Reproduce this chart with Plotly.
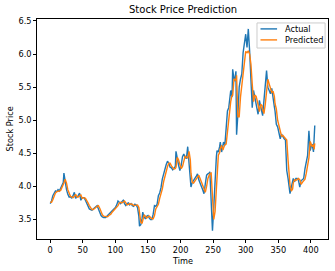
import plotly.graph_objects as go

time_idx = [0,2,4,6,8,10,12,14,16,18,20,21,23,25,27,29,31,33,35,37,39,41,43,45,47,49,52,54,56,58,60,62,64,66,68,70,72,74,76,78,80,82,85,88,90,93,95,98,100,102,104,106,108,110,112,114,116,118,120,122,124,126,128,130,132,134,136,137,139,141,142,144,146,148,150,152,154,156,158,160,162,164,166,168,170,172,174,176,178,180,182,184,186,188,190,192,193,195,197,199,201,203,205,207,209,211,213,215,216,218,220,222,224,226,228,230,232,234,236,238,240,242,244,245,247,249,251,253,255,256,258,260,261,263,265,266,268,270,272,274,276,277,279,280,282,283,285,286,288,290,292,294,296,298,300,302,304,306,308,310,312,314,316,318,319,321,323,325,326,328,330,332,334,336,338,340,342,344,345,347,349,351,353,355,357,359,361,363,365,367,368,370,372,373,375,377,379,381,383,385,387,389,391,393,395,397,399,401,402,404,405,406]

actual = [3.74,3.78,3.86,3.91,3.93,3.92,3.95,3.93,3.98,4.03,4.06,4.20,4.04,3.95,3.88,3.84,3.85,3.82,3.86,3.91,3.82,3.84,3.86,3.90,3.79,3.83,3.83,3.79,3.74,3.70,3.66,3.65,3.64,3.66,3.68,3.70,3.71,3.66,3.60,3.56,3.54,3.53,3.53,3.56,3.58,3.61,3.64,3.66,3.68,3.72,3.78,3.76,3.74,3.77,3.79,3.74,3.71,3.74,3.75,3.72,3.74,3.71,3.70,3.73,3.72,3.68,3.55,3.40,3.42,3.52,3.61,3.54,3.51,3.55,3.56,3.52,3.50,3.50,3.58,3.71,3.70,3.73,3.86,3.90,3.98,4.11,4.20,4.26,4.33,4.38,4.35,4.29,4.28,4.25,4.28,4.30,4.53,4.40,4.32,4.24,4.32,4.45,4.49,4.44,4.42,4.60,4.35,4.10,3.99,4.06,4.10,4.12,4.15,4.19,4.10,4.06,4.00,3.95,3.89,4.04,4.17,4.19,4.20,4.22,3.81,3.33,3.69,4.15,4.45,4.54,4.52,4.60,4.67,4.52,4.60,4.67,4.62,4.95,5.14,5.19,5.35,5.45,5.35,5.77,5.62,5.59,5.74,4.78,5.09,5.50,5.62,5.70,6.02,6.14,6.30,6.10,6.38,6.05,5.45,5.19,5.45,5.35,5.25,5.19,5.09,5.30,5.22,5.15,5.07,5.30,5.55,5.75,5.50,5.45,5.40,5.48,5.30,5.20,5.14,4.94,4.90,4.82,4.72,4.79,4.74,4.72,4.70,4.24,4.12,3.95,3.89,3.99,4.10,4.12,4.07,4.12,4.12,4.09,3.99,4.09,4.10,4.12,4.27,4.39,4.47,4.84,4.54,4.62,4.64,4.52,4.84,4.92]

predicted = [3.76,3.76,3.80,3.86,3.90,3.92,3.92,3.93,3.94,3.98,4.02,4.05,4.11,4.05,3.95,3.88,3.85,3.84,3.83,3.85,3.88,3.84,3.84,3.86,3.87,3.82,3.83,3.82,3.79,3.75,3.71,3.67,3.65,3.65,3.66,3.68,3.70,3.71,3.67,3.61,3.57,3.55,3.54,3.54,3.56,3.58,3.61,3.64,3.66,3.68,3.71,3.75,3.76,3.75,3.76,3.78,3.75,3.72,3.73,3.74,3.73,3.73,3.71,3.71,3.72,3.72,3.68,3.58,3.46,3.44,3.50,3.57,3.55,3.52,3.54,3.55,3.53,3.51,3.51,3.56,3.66,3.70,3.73,3.82,3.88,3.96,4.07,4.16,4.23,4.30,4.35,4.35,4.31,4.28,4.26,4.27,4.29,4.44,4.40,4.33,4.27,4.30,4.40,4.46,4.44,4.43,4.53,4.40,4.20,4.06,4.05,4.08,4.11,4.14,4.17,4.12,4.07,4.01,3.96,3.91,4.00,4.12,4.17,4.19,4.20,3.90,3.50,3.62,4.00,4.30,4.47,4.51,4.57,4.62,4.55,4.58,4.63,4.64,4.85,5.05,5.15,5.28,5.38,5.37,5.62,5.62,5.60,5.68,5.05,5.05,5.35,5.55,5.66,5.88,6.04,6.02,6.05,6.00,5.85,5.55,5.28,5.38,5.36,5.28,5.22,5.13,5.24,5.22,5.16,5.10,5.24,5.45,5.62,5.55,5.47,5.42,5.44,5.36,5.25,5.17,5.00,4.92,4.85,4.76,4.77,4.75,4.72,4.70,4.40,4.18,4.02,3.93,3.96,4.05,4.10,4.09,4.11,4.12,4.10,4.03,4.06,4.09,4.11,4.20,4.33,4.43,4.68,4.60,4.60,4.63,4.56,4.65]

x_ticks = [0, 50, 100, 150, 200, 250, 300, 350, 400]
y_ticks = [3.5, 4.0, 4.5, 5.0, 5.5, 6.0, 6.5]
y_tick_labels = ["3.5", "4.0", "4.5", "5.0", "5.5", "6.0", "6.5"]
series_names = ["Actual", "Predicted"]
series_colors = ["#1f77b4", "#ff7f0e"]

FONT = "DejaVu Sans"
TICK = 8.2

fig = go.Figure()
for name, vals, col in zip(series_names, [actual, predicted], series_colors):
    fig.add_trace(go.Scatter(x=time_idx, y=vals, mode="lines", name=name,
                             line=dict(color=col, width=1.4), showlegend=False,
                             hoverinfo="skip"))

axis_common = dict(showline=True, linecolor="black", linewidth=0.8, mirror=True,
                   ticks="outside", ticklen=3, tickwidth=0.8, tickcolor="black",
                   showgrid=False, zeroline=False, automargin=False,
                   tickfont=dict(family=FONT, size=TICK, color="black"))

# Legend box (drawn manually to match matplotlib's compact legend)
shapes = [dict(type="rect", xref="paper", yref="paper", x0=0.756, x1=0.990, y0=0.868, y1=0.982,
               line=dict(color="#cccccc", width=1), fillcolor="rgba(255,255,255,0.8)", layer="above")]
annotations = []
for i, (name, col) in enumerate(zip(series_names, series_colors)):
    yy = 0.955 - i * 0.05
    shapes.append(dict(type="line", xref="paper", yref="paper", x0=0.768, x1=0.825, y0=yy, y1=yy,
                       line=dict(color=col, width=1.4), layer="above"))
    annotations.append(dict(text=name, xref="paper", yref="paper", x=0.845, y=yy,
                            xanchor="left", yanchor="middle", showarrow=False,
                            font=dict(family=FONT, size=TICK, color="black")))

annotations += [
    dict(text="Stock Price Prediction", xref="paper", yref="paper", x=0.5, y=1.041,
         xanchor="center", yanchor="middle", showarrow=False,
         font=dict(family=FONT, size=10, color="black")),
    dict(text="Time", xref="paper", yref="paper", x=0.5, y=-0.1,
         xanchor="center", yanchor="middle", showarrow=False,
         font=dict(family=FONT, size=TICK, color="black")),
    dict(text="Stock Price", xref="paper", yref="paper", x=-0.0945, y=0.5, textangle=-90,
         xanchor="center", yanchor="middle", showarrow=False,
         font=dict(family=FONT, size=TICK, color="black")),
]

fig.update_layout(
    width=335, height=271,
    margin=dict(l=37, r=7, t=19, b=32, autoexpand=False),
    paper_bgcolor="white", plot_bgcolor="white",
    font=dict(family=FONT, color="black"),
    xaxis=dict(range=[-20.3, 426.3], tickvals=x_ticks, **axis_common),
    yaxis=dict(range=[3.205, 6.53], tickvals=y_ticks, ticktext=y_tick_labels, **axis_common),
    shapes=shapes, annotations=annotations,
    showlegend=False,
)

fig.write_html("out.html", config={"displayModeBar": False},
               post_script="document.body.style.margin='0px';document.body.style.overflow='hidden';")
